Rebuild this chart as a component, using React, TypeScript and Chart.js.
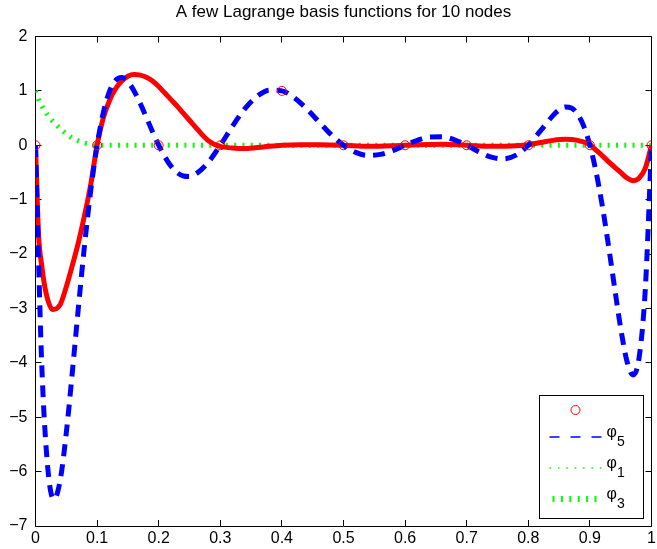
import React, { useEffect, useRef } from 'react';
import { Chart, registerables } from 'chart.js';

Chart.register(...registerables);

const titleText = 'A few Lagrange basis functions for 10 nodes';

const xTicks = [0, 0.1, 0.2, 0.3, 0.4, 0.5, 0.6, 0.7, 0.8, 0.9, 1];
const yTicks = [-7, -6, -5, -4, -3, -2, -1, 0, 1, 2];

const nodeX = [0, 0.1, 0.2, 0.3, 0.4, 0.5, 0.6, 0.7, 0.8, 0.9, 1];
const nodeY = [0, 0, 0, 0, 1, 0, 0, 0, 0, 0, 0];

const blueX = [
  0, 0.01, 0.02, 0.03, 0.04, 0.05, 0.06, 0.07, 0.08, 0.09, 0.1,
  0.11, 0.12, 0.13, 0.14, 0.15, 0.16, 0.17, 0.18, 0.19, 0.2,
  0.22, 0.24, 0.25, 0.26, 0.28, 0.3, 0.32, 0.34, 0.36, 0.38, 0.4,
  0.42, 0.44, 0.46, 0.48, 0.5, 0.52, 0.54, 0.56, 0.58, 0.6,
  0.62, 0.64, 0.66, 0.68, 0.7, 0.72, 0.74, 0.76, 0.78, 0.8,
  0.82, 0.84, 0.85, 0.86, 0.87, 0.88, 0.89, 0.9,
  0.91, 0.92, 0.93, 0.94, 0.95, 0.96, 0.97, 0.98, 0.99, 1,
];
const blueY = [
  0, -3.985, -5.943, -6.507, -6.164, -5.286, -4.147, -2.94, -1.798, -0.803, 0,
  0.595, 0.988, 1.195, 1.245, 1.168, 1.0, 0.771, 0.512, 0.248, 0,
  -0.384, -0.564, -0.573, -0.531, -0.32, 0, 0.355, 0.673, 0.903, 1.014, 1,
  0.876, 0.673, 0.433, 0.196, 0, -0.131, -0.186, -0.168, -0.097, 0,
  0.092, 0.151, 0.155, 0.101, 0, -0.12, -0.219, -0.251, -0.182, 0,
  0.268, 0.545, 0.649, 0.704, 0.686, 0.576, 0.352, 0,
  -0.488, -1.106, -1.83, -2.611, -3.364, -3.962, -4.223, -3.894, -2.634, 0,
];

const redX = [
  0, 0.005, 0.01, 0.017, 0.028, 0.04, 0.05, 0.06, 0.07, 0.08, 0.09, 0.1,
  0.11, 0.12, 0.13, 0.14, 0.15, 0.16, 0.17, 0.18, 0.19, 0.2, 0.21, 0.22,
  0.23, 0.24, 0.25, 0.26, 0.27, 0.28, 0.29, 0.3, 0.32, 0.34, 0.37, 0.4,
  0.43, 0.46, 0.5, 0.54, 0.58, 0.62, 0.66, 0.7, 0.74, 0.78, 0.8, 0.82,
  0.84, 0.86, 0.88, 0.9, 0.91, 0.92, 0.93, 0.94, 0.95, 0.96, 0.97, 0.98,
  0.99, 1,
];
const redY = [
  0, -1.65, -2.2, -2.71, -3.02, -2.93, -2.6, -2.2, -1.77, -1.27, -0.7, 0,
  0.5, 0.82, 1.04, 1.18, 1.27, 1.3, 1.29, 1.25, 1.18, 1.08, 0.96, 0.84,
  0.72, 0.59, 0.46, 0.33, 0.2, 0.09, 0.02, -0.02, -0.05, -0.06, -0.03, 0,
  0.01, 0.01, 0, -0.02, -0.01, 0.01, 0.02, 0, -0.02, -0.01, 0.01, 0.05,
  0.09, 0.11, 0.09, 0.01, -0.09, -0.19, -0.3, -0.4, -0.5, -0.6, -0.65, -0.6,
  -0.42, 0,
];

const greenX = [0, 0.005, 0.01, 0.02, 0.03, 0.04, 0.05, 0.06, 0.07, 0.08, 0.09, 0.1, 0.2, 0.3, 0.4, 0.5, 0.6, 0.7, 0.8, 0.9, 1];
const greenY = [1, 0.84, 0.73, 0.55, 0.42, 0.31, 0.21, 0.13, 0.08, 0.04, 0.02, 0, 0, 0, 0, 0, 0, 0, 0, 0, 0];

const legendNames = ['', '\u03C6', '\u03C6', '\u03C6'];
const legendSubs = ['', '5', '1', '3'];

const FONT = "'Liberation Sans', Arial, Helvetica, sans-serif";

const pts = (xs: number[], ys: number[]) => xs.map((x, i) => ({ x, y: ys[i] }));

const framePlugin = {
  id: 'frame',
  beforeDatasetsDraw(chart: any) {
    const { ctx, chartArea } = chart;
    const { left, right, top, bottom } = chartArea;
    const xs = chart.scales.x;
    const ys = chart.scales.y;
    ctx.save();
    ctx.strokeStyle = '#000';
    ctx.lineWidth = 1;
    ctx.beginPath();
    ctx.rect(Math.floor(left) + 0.5, Math.floor(top) + 0.5, Math.floor(right) - Math.floor(left), Math.floor(bottom) - Math.floor(top));
    ctx.stroke();
    const tl = 6;
    ctx.beginPath();
    xTicks.forEach((v) => {
      const p = Math.floor(xs.getPixelForValue(v)) + 0.5;
      ctx.moveTo(p, bottom);
      ctx.lineTo(p, bottom - tl);
      ctx.moveTo(p, top);
      ctx.lineTo(p, top + tl);
    });
    yTicks.forEach((v) => {
      const p = Math.floor(ys.getPixelForValue(v)) + 0.5;
      ctx.moveTo(left, p);
      ctx.lineTo(left + tl, p);
      ctx.moveTo(right, p);
      ctx.lineTo(right - tl, p);
    });
    ctx.stroke();
    ctx.restore();
  },
};

const overlayPlugin = {
  id: 'overlay',
  afterDraw(chart: any) {
    const { ctx, chartArea } = chart;
    const { left, right, bottom } = chartArea;
    ctx.save();
    // title
    ctx.fillStyle = '#000';
    ctx.font = `17px ${FONT}`;
    ctx.textAlign = 'center';
    ctx.textBaseline = 'middle';
    ctx.fillText(titleText, (left + right) / 2, 12.5);

    // legend
    const bw = 104;
    const bh = 123;
    const bx = Math.floor(right) - 8 - bw;
    const by = Math.floor(bottom) - 8 - bh;
    ctx.fillStyle = '#fff';
    ctx.fillRect(bx, by, bw, bh);
    ctx.strokeStyle = '#000';
    ctx.lineWidth = 1;
    ctx.strokeRect(bx + 0.5, by + 0.5, bw, bh);

    const rowY = [15, 42, 73, 104];
    const x0 = bx + 10.5;
    const x1 = bx + 62.5;
    ctx.strokeStyle = '#ff0000';
    ctx.lineWidth = 1;
    ctx.beginPath();
    ctx.arc((x0 + x1) / 2, by + rowY[0], 4.5, 0, Math.PI * 2);
    ctx.stroke();
    const styles = [
      null,
      { color: '#0000ff', width: 1.5, dash: [10, 11], start: x0 },
      { color: '#00ff00', width: 1.5, dash: [1.5, 6.9], start: x0 },
      { color: '#00ff00', width: 6, dash: [2, 6.4], start: x0 + 3 },
    ];
    for (let i = 1; i < 4; i++) {
      const s = styles[i]!;
      ctx.strokeStyle = s.color;
      ctx.lineWidth = s.width;
      ctx.setLineDash(s.dash);
      ctx.lineCap = 'butt';
      ctx.beginPath();
      ctx.moveTo(s.start, by + rowY[i]);
      ctx.lineTo(x1, by + rowY[i]);
      ctx.stroke();
      ctx.setLineDash([]);
      ctx.fillStyle = '#000';
      ctx.textAlign = 'left';
      ctx.textBaseline = 'alphabetic';
      ctx.font = `16px ${FONT}`;
      const tx = bx + 67.5;
      ctx.fillText(legendNames[i], tx, by + rowY[i]);
      const w = ctx.measureText(legendNames[i]).width;
      ctx.font = `14px ${FONT}`;
      ctx.fillText(legendSubs[i], tx + w, by + rowY[i] + 8.5);
    }
    ctx.restore();
  },
};

export default function App() {
  const ref = useRef<HTMLCanvasElement | null>(null);
  useEffect(() => {
    if (!ref.current) return;
    Chart.defaults.font.family = FONT;
    const chart = new Chart(ref.current, {
      type: 'line',
      data: {
        datasets: [
          {
            label: 'nodes',
            data: pts(nodeX, nodeY),
            showLine: false,
            pointRadius: 4.5,
            pointBorderWidth: 1,
            pointBorderColor: '#ff0000',
            pointBackgroundColor: 'rgba(0,0,0,0)',
            order: 0,
          },
          {
            label: 'phi5',
            data: pts(blueX, blueY),
            borderColor: '#0000ff',
            borderWidth: 5,
            borderDash: [12, 8],
            borderCapStyle: 'butt',
            pointRadius: 0,
            cubicInterpolationMode: 'monotone',
            order: 1,
          },
          {
            label: 'red',
            data: pts(redX, redY),
            borderColor: '#ff0000',
            borderWidth: 5,
            borderJoinStyle: 'round',
            pointRadius: 0,
            cubicInterpolationMode: 'monotone',
            order: 2,
          },
          {
            label: 'phi3',
            data: pts(greenX, greenY),
            borderColor: '#00ff00',
            borderWidth: 5,
            borderDash: [2, 6.3],
            borderCapStyle: 'butt',
            pointRadius: 0,
            cubicInterpolationMode: 'monotone',
            order: 3,
          },
        ],
      } as any,
      options: {
        animation: false,
        responsive: false,
        events: [],
        layout: { padding: { top: 36.5, right: 1.5, left: 0, bottom: 0 } },
        plugins: {
          legend: { display: false },
          title: { display: false },
          tooltip: { enabled: false },
        },
        scales: {
          x: {
            type: 'linear',
            min: 0,
            max: 1,
            afterBuildTicks: (s: any) => {
              s.ticks = xTicks.map((v) => ({ value: v }));
            },
            afterFit: (s: any) => {
              s.height = 23;
              s.paddingLeft = 0;
              s.paddingRight = 0;
            },
            ticks: {
              callback: (v: any) => String(Math.round(Number(v) * 10) / 10),
              color: '#000',
              font: { size: 16, family: FONT },
              padding: 3,
              maxRotation: 0,
              autoSkip: false,
            },
            grid: { display: false, drawTicks: false },
            border: { display: false },
          },
          y: {
            type: 'linear',
            min: -7,
            max: 2,
            afterBuildTicks: (s: any) => {
              s.ticks = yTicks.map((v) => ({ value: v }));
            },
            afterFit: (s: any) => {
              s.width = 35.5;
              s.paddingTop = 0;
              s.paddingBottom = 0;
            },
            ticks: {
              callback: (v: any) => (Number(v) < 0 ? '\u2212' + String(-Number(v)) : String(v)),
              color: '#000',
              font: { size: 16, family: FONT },
              padding: 8,
              autoSkip: false,
            },
            grid: { display: false, drawTicks: false },
            border: { display: false },
          },
        },
      } as any,
      plugins: [framePlugin, overlayPlugin],
    });
    return () => chart.destroy();
  }, []);
  return (
    <div style={{ position: 'absolute', left: 0, top: 0, width: 657, height: 549, background: '#fff' }}>
      <canvas ref={ref} width={657} height={549} style={{ display: 'block' }} />
    </div>
  );
}
